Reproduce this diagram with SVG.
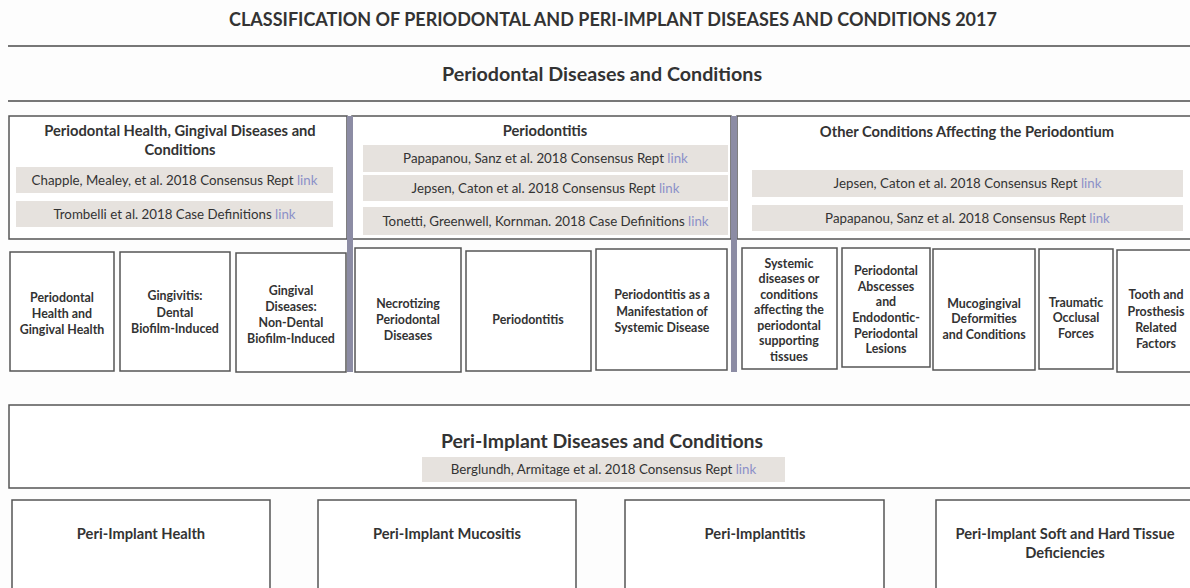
<svg xmlns="http://www.w3.org/2000/svg" width="1190" height="588" viewBox="0 0 1190 588">
<style>
text{font-family:Lato,"Liberation Sans",sans-serif;fill:#333;text-anchor:middle}
.t{font-size:18px;font-weight:bold}
.h1{font-size:19.7px;font-weight:bold}
.h2{font-size:14.7px;font-weight:bold}
.b{font-size:12.4px;font-weight:bold}
.r{font-size:13.3px}
.lk{fill:#8c90c8}
.box{fill:#fff;stroke:#555;stroke-width:1.5}
.band{fill:#e6e2de}
.rule{stroke:#777;stroke-width:2}
.bar{fill:#8c8ca4}
</style>
<rect width="1190" height="588" fill="#fdfdfd"/>
<g id="title">
<text class="t" x="613" y="26">CLASSIFICATION OF PERIODONTAL AND PERI-IMPLANT DISEASES AND CONDITIONS 2017</text>
<line class="rule" x1="8" y1="46" x2="1190" y2="46"/>
</g>
<g id="periodontal-header">
<text class="h1" x="602" y="81">Periodontal Diseases and Conditions</text>
<line class="rule" x1="8" y1="101" x2="1190" y2="101"/>
</g>
<g id="health-gingival">
<rect class="box" x="9" y="116" width="338" height="123"/>
<text class="h2" x="180" y="136">Periodontal Health, Gingival Diseases and</text>
<text class="h2" x="180" y="155">Conditions</text>
<rect class="band" x="16" y="167" width="317" height="26"/>
<text class="r" x="174.5" y="184.5">Chapple, Mealey, et al. 2018 Consensus Rept <tspan class="lk">link</tspan></text>
<rect class="band" x="16" y="201" width="317" height="26"/>
<text class="r" x="174.5" y="218.5">Trombelli et al. 2018 Case Definitions <tspan class="lk">link</tspan></text>
</g>
<g id="periodontitis-group">
<rect class="box" x="352" y="116" width="379" height="123"/>
<text class="h2" x="545" y="136">Periodontitis</text>
<rect class="band" x="363" y="145" width="365" height="27"/>
<text class="r" x="545.5" y="163">Papapanou, Sanz et al. 2018 Consensus Rept <tspan class="lk">link</tspan></text>
<rect class="band" x="363" y="175" width="365" height="26"/>
<text class="r" x="545.5" y="192.5">Jepsen, Caton et al. 2018 Consensus Rept <tspan class="lk">link</tspan></text>
<rect class="band" x="363" y="207" width="365" height="28"/>
<text class="r" x="545.5" y="225.5">Tonetti, Greenwell, Kornman. 2018 Case Definitions <tspan class="lk">link</tspan></text>
</g>
<g id="other-conditions">
<rect class="box" x="737" y="116" width="460" height="123"/>
<text class="h2" x="967" y="136.5">Other Conditions Affecting the Periodontium</text>
<rect class="band" x="752" y="170" width="431" height="27"/>
<text class="r" x="967.5" y="188">Jepsen, Caton et al. 2018 Consensus Rept <tspan class="lk">link</tspan></text>
<rect class="band" x="752" y="205" width="431" height="26"/>
<text class="r" x="967.5" y="222.5">Papapanou, Sanz et al. 2018 Consensus Rept <tspan class="lk">link</tspan></text>
</g>
<g id="dividers">
<rect class="bar" x="347" y="116" width="6" height="256"/>
<rect class="bar" x="731" y="116" width="6" height="256"/>
</g>
<g id="n-health">
<rect class="box" x="10" y="252" width="104" height="119"/>
<text class="b" x="62" y="301.5">Periodontal</text>
<text class="b" x="62" y="317.5">Health and</text>
<text class="b" x="62" y="333.5">Gingival Health</text>
</g>
<g id="n-gingivitis">
<rect class="box" x="120" y="252" width="110" height="119"/>
<text class="b" x="175" y="299.5">Gingivitis:</text>
<text class="b" x="175" y="316.5">Dental</text>
<text class="b" x="175" y="332.5">Biofilm-Induced</text>
</g>
<g id="n-gingival-nondental">
<rect class="box" x="236" y="253" width="110" height="119"/>
<text class="b" x="291" y="294.5">Gingival</text>
<text class="b" x="291" y="310.5">Diseases:</text>
<text class="b" x="291" y="326.5">Non-Dental</text>
<text class="b" x="291" y="342.5">Biofilm-Induced</text>
</g>
<g id="n-necrotizing">
<rect class="box" x="355" y="248" width="106" height="124"/>
<text class="b" x="408" y="307.5">Necrotizing</text>
<text class="b" x="408" y="323.5">Periodontal</text>
<text class="b" x="408" y="339.5">Diseases</text>
</g>
<g id="n-periodontitis">
<rect class="box" x="466" y="251" width="125" height="120"/>
<text class="b" x="528" y="323.5">Periodontitis</text>
</g>
<g id="n-systemic-manifestation">
<rect class="box" x="596" y="249" width="131" height="121"/>
<text class="b" x="662" y="298.5">Periodontitis as a</text>
<text class="b" x="662" y="315.5">Manifestation of</text>
<text class="b" x="662" y="331.5">Systemic Disease</text>
</g>
<g id="n-systemic-diseases">
<rect class="box" x="742" y="248" width="95" height="121"/>
<text class="b" x="789" y="267.5">Systemic</text>
<text class="b" x="789" y="283">diseases or</text>
<text class="b" x="789" y="298.5">conditions</text>
<text class="b" x="789" y="314">affecting the</text>
<text class="b" x="789" y="329.5">periodontal</text>
<text class="b" x="789" y="345">supporting</text>
<text class="b" x="789" y="360.5">tissues</text>
</g>
<g id="n-abscesses">
<rect class="box" x="842" y="248" width="88" height="119"/>
<text class="b" x="886" y="274.5">Periodontal</text>
<text class="b" x="886" y="290.5">Abscesses</text>
<text class="b" x="886" y="305.5">and</text>
<text class="b" x="886" y="321.5">Endodontic-</text>
<text class="b" x="886" y="337.5">Periodontal</text>
<text class="b" x="886" y="352.5">Lesions</text>
</g>
<g id="n-mucogingival">
<rect class="box" x="933" y="249" width="102" height="121"/>
<text class="b" x="984" y="307.5">Mucogingival</text>
<text class="b" x="984" y="322.5">Deformities</text>
<text class="b" x="984" y="338.5">and Conditions</text>
</g>
<g id="n-traumatic">
<rect class="box" x="1039" y="249" width="74" height="120"/>
<text class="b" x="1076" y="306.5">Traumatic</text>
<text class="b" x="1076" y="321.5">Occlusal</text>
<text class="b" x="1076" y="337.5">Forces</text>
</g>
<g id="n-tooth-prosthesis">
<rect class="box" x="1117" y="250" width="80" height="122"/>
<text class="b" x="1156" y="298.5">Tooth and</text>
<text class="b" x="1156" y="315.5">Prosthesis</text>
<text class="b" x="1156" y="331.5">Related</text>
<text class="b" x="1156" y="347.5">Factors</text>
</g>
<g id="peri-implant-header">
<rect class="box" x="9" y="405" width="1190" height="83"/>
<text x="602" y="448" style="font-size:19.4px;font-weight:bold">Peri-Implant Diseases and Conditions</text>
<rect class="band" x="422" y="457" width="363" height="25"/>
<text class="r" x="603.5" y="474">Berglundh, Armitage et al. 2018 Consensus Rept <tspan class="lk">link</tspan></text>
</g>
<g id="n-pi-health">
<rect class="box" x="12" y="500" width="258" height="100"/>
<text class="h2" x="141" y="539">Peri-Implant Health</text>
</g>
<g id="n-pi-mucositis">
<rect class="box" x="318" y="500" width="258" height="100"/>
<text class="h2" x="447" y="539">Peri-Implant Mucositis</text>
</g>
<g id="n-pi-implantitis">
<rect class="box" x="625" y="500" width="259" height="100"/>
<text class="h2" x="755" y="539">Peri-Implantitis</text>
</g>
<g id="n-pi-deficiencies">
<rect class="box" x="936" y="500" width="260" height="100"/>
<text class="h2" x="1065" y="539">Peri-Implant Soft and Hard Tissue</text>
<text class="h2" x="1065" y="558">Deficiencies</text>
</g>
<g id="connectors"></g>
</svg>
